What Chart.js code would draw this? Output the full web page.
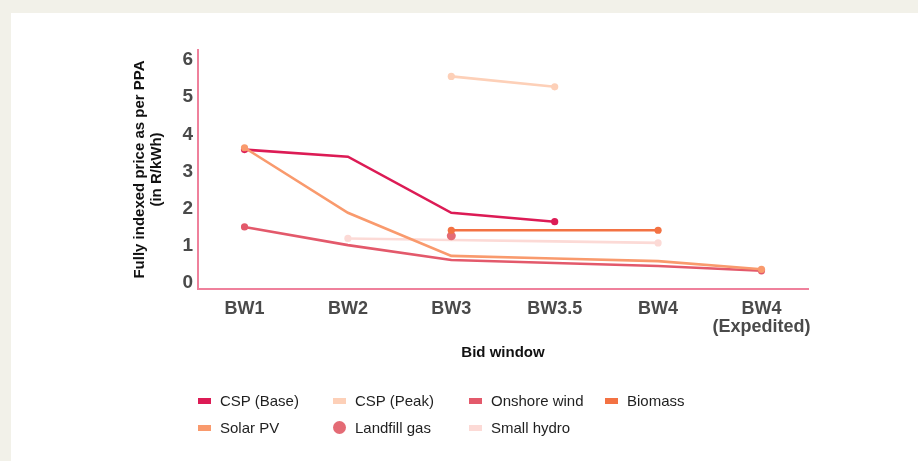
<!DOCTYPE html>
<html>
<head>
<meta charset="utf-8">
<script src="https://cdn.jsdelivr.net/npm/chart.js@4.4.1/dist/chart.umd.min.js"></script>
<style>
  html, body { margin: 0; padding: 0; width: 918px; height: 461px; overflow: hidden; background: #f2f1e9; }
  #panel { position: absolute; left: 11px; top: 13px; right: 0; bottom: 0; background: #ffffff; }
  #wrap { position: absolute; left: 0; top: 0; width: 918px; height: 461px; }
  #legend { position: absolute; left: 0; top: 0; width: 918px; height: 461px; pointer-events: none;
            font-family: 'Liberation Sans', Arial, sans-serif; font-size: 15px; color: #1f1f1f; }
  .li { position: absolute; white-space: nowrap; line-height: 18px; }
  .mk { position: absolute; }
</style>
</head>
<body>
<div id="panel"></div>
<div id="wrap"><canvas id="c" width="918" height="461"></canvas></div>
<div id="legend"></div>
<script>
// ---- data ----
const categories = ["BW1", "BW2", "BW3", "BW3.5", "BW4", ["BW4", "(Expedited)"]];
const yTicks = [0, 1, 2, 3, 4, 5, 6];

const cspBase     = [3.59, 3.40, 1.89, 1.65, null, null];
const cspPeak     = [null, null, 5.56, 5.28, null, null];
const onshoreWind = [1.51, 1.02, 0.62, 0.54, 0.46, 0.33];
const biomass     = [null, null, 1.42, 1.42, 1.42, null];
const solarPV     = [3.64, 1.89, 0.73, 0.66, 0.59, 0.37];
const landfillGas = [null, null, 1.27, null, null, null];
const smallHydro  = [null, 1.20, 1.16, 1.12, 1.08, null];

const seriesNames  = ["CSP (Base)", "CSP (Peak)", "Onshore wind", "Biomass", "Solar PV", "Landfill gas", "Small hydro"];
const seriesValues = [cspBase, cspPeak, onshoreWind, biomass, solarPV, landfillGas, smallHydro];
const seriesColors = ["#dc1b55", "#fdd0b8", "#e3596b", "#f37243", "#f99a6d", "#e46b75", "#fcdad6"];
const seriesOrder  = [1, 6, 2, 3, 0, 4, 5];

// ---- build datasets ----
function toPoints(arr) {
  const pts = [];
  arr.forEach((v, i) => { if (v !== null) pts.push({ x: i, y: v }); });
  return pts;
}
const datasets = seriesValues.map((vals, k) => {
  const pts = toPoints(vals);
  const onlyPoint = pts.length === 1;
  return {
    label: seriesNames[k],
    data: pts,
    borderColor: seriesColors[k],
    backgroundColor: seriesColors[k],
    borderWidth: 2.6,
    showLine: !onlyPoint,
    pointRadius: pts.map((p, i) => (i === 0 || i === pts.length - 1) ? (onlyPoint ? 4.5 : 3.6) : 0),
    pointHoverRadius: 0,
    pointBorderWidth: 0,
    tension: 0,
    order: seriesOrder[k]
  };
});

const narrow = "'Liberation Sans Narrow', 'Arial Narrow', 'Liberation Sans', sans-serif";

new Chart(document.getElementById('c'), {
  type: 'scatter',
  data: { datasets },
  options: {
    responsive: false,
    animation: false,
    events: [],
    layout: { padding: { left: 0, top: 50, right: 110, bottom: 0 } },
    plugins: { legend: { display: false }, tooltip: { enabled: false } },
    scales: {
      x: {
        type: 'linear',
        min: -0.45,
        max: 5.45,
        afterBuildTicks: (s) => { s.ticks = categories.map((c, i) => ({ value: i })); },
        afterFit: (s) => { s.height = 172; },
        grid: { display: false, drawTicks: false },
        border: { display: true, color: '#ef819c', width: 2 },
        ticks: {
          autoSkip: false, maxRotation: 0,
          padding: 11,
          color: '#4a4a4a',
          font: { family: narrow, size: 18, weight: 'bold', lineHeight: 1.0 },
          callback: (v) => categories[v]
        },
        title: {
          display: true, text: 'Bid window', color: '#111',
          font: { family: "'Liberation Sans', Arial, sans-serif", size: 15, weight: 'bold', lineHeight: 1.2 },
          padding: { top: 0, bottom: 99 }
        }
      },
      y: {
        min: -0.16,
        max: 6.27,
        afterBuildTicks: (s) => { s.ticks = yTicks.map(v => ({ value: v })); },
        afterFit: (s) => { s.width = 198; },
        grid: { display: false, drawTicks: false },
        border: { display: true, color: '#ef819c', width: 2 },
        ticks: {
          padding: 5,
          color: '#4a4a4a',
          font: { family: narrow, size: 19, weight: 'bold' }
        },
        title: {
          display: true,
          text: ['Fully indexed price as per PPA', '(in R/kWh)'],
          color: '#111',
          font: { family: "'Liberation Sans', Arial, sans-serif", size: 15, weight: 'bold', lineHeight: 1.13 },
          padding: { top: 131.5, bottom: 0 }
        }
      }
    }
  }
});

// ---- HTML legend (two rows, four columns) ----
const legendCols = [198, 333, 469, 605];
const legendRows = [401, 428];
const leg = document.getElementById('legend');
seriesNames.forEach((name, k) => {
  const col = k % 4, row = Math.floor(k / 4);
  const x = legendCols[col], yc = legendRows[row];
  const mk = document.createElement('div');
  mk.className = 'mk';
  if (name === 'Landfill gas') {
    Object.assign(mk.style, { left: x + 'px', top: (yc - 7) + 'px', width: '13px', height: '13px',
      borderRadius: '50%', background: seriesColors[k] });
  } else {
    Object.assign(mk.style, { left: x + 'px', top: (yc - 3) + 'px', width: '13px', height: '6px',
      background: seriesColors[k] });
  }
  leg.appendChild(mk);
  const t = document.createElement('div');
  t.className = 'li';
  t.textContent = name;
  Object.assign(t.style, { left: (x + 22) + 'px', top: (yc - 9) + 'px' });
  leg.appendChild(t);
});
</script>
</body>
</html>
